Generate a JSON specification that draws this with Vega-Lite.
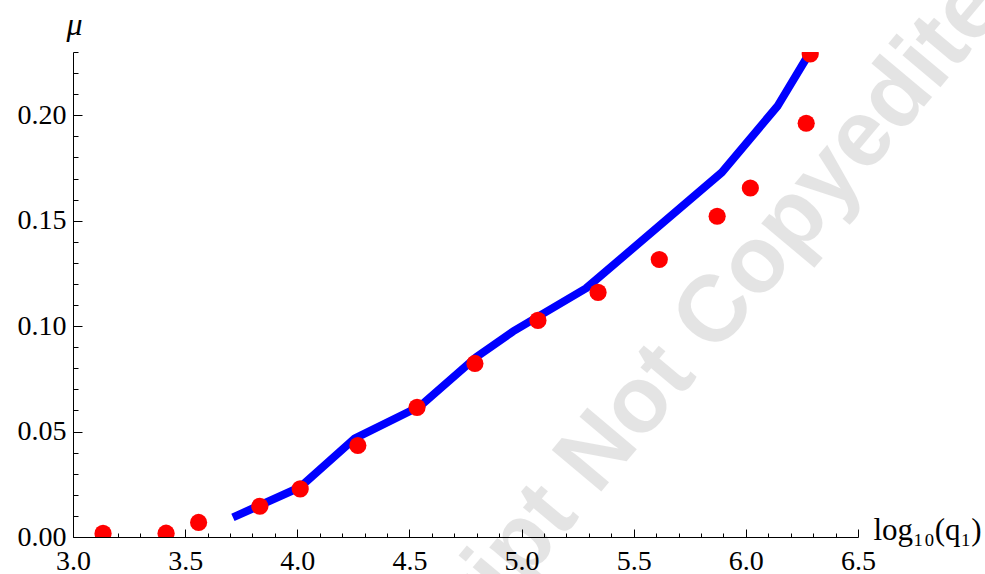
{
  "$schema": "https://vega.github.io/schema/vega-lite/v6.json",
  "width": 785,
  "height": 485,
  "autosize": {"type": "none"},
  "padding": {"left": 73, "top": 52, "right": 127, "bottom": 37},
  "background": "white",
  "config": {"view": {"stroke": null}},
  "datasets": {
    "points": [
      {"x": 3.134, "y": 0.0017},
      {"x": 3.415, "y": 0.0018},
      {"x": 3.560, "y": 0.0069},
      {"x": 3.833, "y": 0.0146},
      {"x": 4.013, "y": 0.0228},
      {"x": 4.270, "y": 0.0434},
      {"x": 4.534, "y": 0.0615},
      {"x": 4.792, "y": 0.0823},
      {"x": 5.073, "y": 0.1027},
      {"x": 5.341, "y": 0.1160},
      {"x": 5.614, "y": 0.1316},
      {"x": 5.872, "y": 0.1521},
      {"x": 6.020, "y": 0.1655},
      {"x": 6.269, "y": 0.1962},
      {"x": 6.287, "y": 0.2291}
    ],
    "curve": [
      {"x": 3.713, "y": 0.0093},
      {"x": 4.012, "y": 0.0236},
      {"x": 4.257, "y": 0.0468},
      {"x": 4.547, "y": 0.0620},
      {"x": 4.797, "y": 0.0852},
      {"x": 4.962, "y": 0.0975},
      {"x": 5.287, "y": 0.1179},
      {"x": 5.893, "y": 0.1729},
      {"x": 6.143, "y": 0.2046},
      {"x": 6.277, "y": 0.2283}
    ],
    "mark": [
      {"x": 4.837, "y": -0.0234}
    ]
  },
  "encoding": {
    "x": {
      "field": "x", "type": "quantitative",
      "scale": {"domain": [3, 6.5], "nice": false, "zero": false},
      "axis": {
        "values": [3.0,3.1,3.2,3.3,3.4,3.5,3.6,3.7,3.8,3.9,4.0,4.1,4.2,4.3,4.4,4.5,4.6,4.7,4.8,4.9,5.0,5.1,5.2,5.3,5.4,5.5,5.6,5.7,5.8,5.9,6.0,6.1,6.2,6.3,6.4,6.5],
        "labelExpr": "abs(datum.value*2 - round(datum.value*2)) < 0.001 ? format(datum.value, '.1f') : ''",
        "tickSize": {"condition": {"test": "abs(datum.value*2 - round(datum.value*2)) < 0.001", "value": -8}, "value": -4},
        "grid": false,
        "domainColor": "#000000",
        "tickColor": "#000000",
        "labelColor": "#000000",
        "labelFont": "Liberation Serif",
        "labelFontSize": 28,
        "labelPadding": 18,
        "labelOverlap": false,
        "labelFlush": false,
        "labelBound": false,
        "title": "log₁₀(q₁)",
        "titleFont": "Liberation Serif",
        "titleFontSize": 31,
        "titleFontWeight": "normal",
        "titleColor": "#000000",
        "titleAlign": "left",
        "titleBaseline": "alphabetic",
        "titleAnchor": "start",
        "titleX": 800,
        "titleY": 2
      }
    },
    "y": {
      "field": "y", "type": "quantitative",
      "scale": {"domain": [0, 0.23], "nice": false, "zero": false},
      "axis": {
        "values": [0,0.01,0.02,0.03,0.04,0.05,0.06,0.07,0.08,0.09,0.10,0.11,0.12,0.13,0.14,0.15,0.16,0.17,0.18,0.19,0.20,0.21,0.22,0.23],
        "labelExpr": "abs(datum.value*20 - round(datum.value*20)) < 0.001 ? format(datum.value, '.2f') : ''",
        "tickSize": {"condition": {"test": "abs(datum.value*20 - round(datum.value*20)) < 0.001", "value": -9}, "value": -5},
        "grid": false,
        "domainColor": "#000000",
        "tickColor": "#000000",
        "labelColor": "#000000",
        "labelFont": "Liberation Serif",
        "labelFontSize": 28,
        "labelPadding": 16,
        "labelOverlap": false,
        "labelFlush": false,
        "labelBound": false,
        "title": "μ",
        "titleFont": "Liberation Serif",
        "titleFontSize": 32,
        "titleFontStyle": "italic",
        "titleFontWeight": "normal",
        "titleColor": "#000000",
        "titleAngle": 0,
        "titleAlign": "center",
        "titleBaseline": "middle",
        "titleX": 1,
        "titleY": -28
      }
    }
  },
  "layer": [
    {
      "data": {"name": "curve"},
      "mark": {"type": "line", "color": "#0000ff", "strokeWidth": 8, "strokeCap": "butt", "strokeJoin": "round", "clip": true}
    },
    {
      "data": {"name": "points"},
      "mark": {"type": "point", "filled": true, "shape": "circle", "size": 295, "color": "#ff0000", "opacity": 1, "clip": true}
    },
    {
      "data": {"name": "mark"},
      "mark": {"type": "text", "text": "Accepted Manuscript Not Copyedited", "angle": -50, "font": "Liberation Sans", "fontWeight": "bold", "fontSize": 94, "color": "#000000", "opacity": 0.1, "align": "center", "baseline": "middle"}
    }
  ]
}
